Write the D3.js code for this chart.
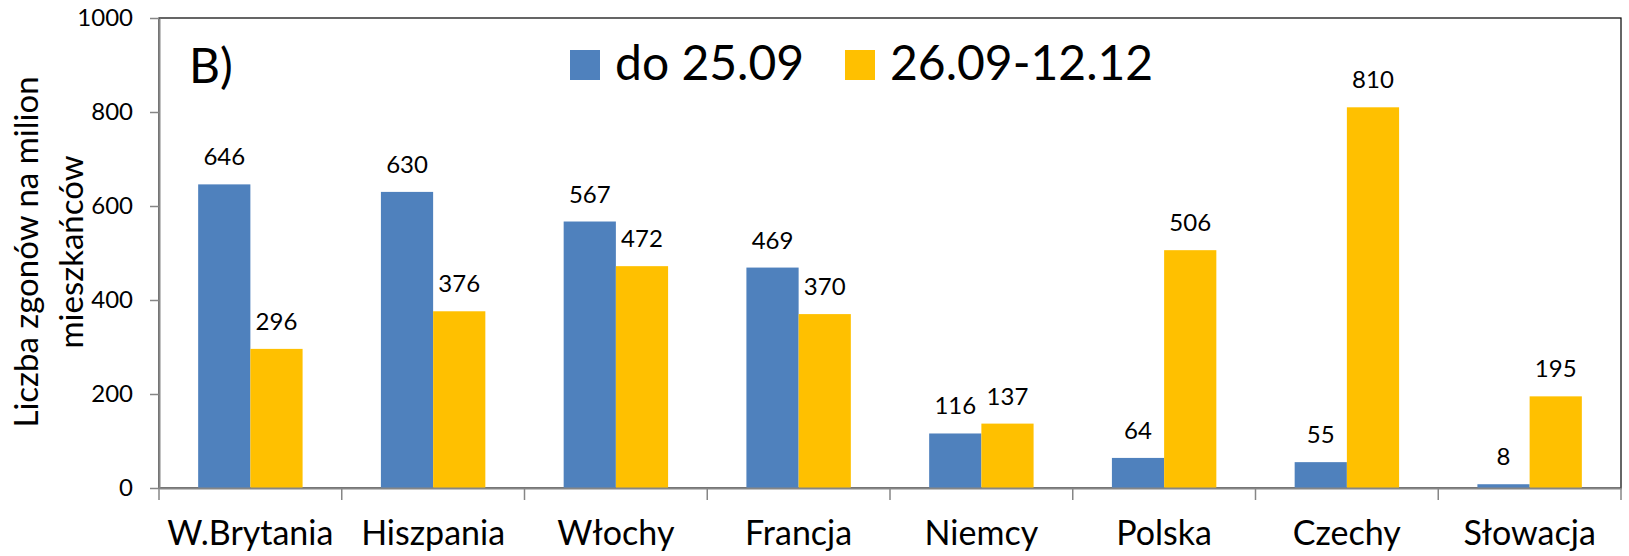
<!DOCTYPE html>
<html>
<head>
<meta charset="utf-8">
<script src="https://cdn.jsdelivr.net/npm/d3@7"></script>
<style>
  body { margin: 0; background: #fff; }
  text { font-family: Lato, "Open Sans", sans-serif; fill: #000; }
</style>
</head>
<body>
<svg id="chart" width="1629" height="556"></svg>
<script>
// data
let countries = ["W.Brytania", "Hiszpania", "Włochy", "Francja", "Niemcy", "Polska", "Czechy", "Słowacja"];
let before = [646, 630, 567, 469, 116, 64, 55, 8];
let after = [296, 376, 472, 370, 137, 506, 810, 195];
let seriesNames = ["do 25.09", "26.09-12.12"];
let colors = ["#4f81bd", "#ffc000"];
let yTicks = [0, 200, 400, 600, 800, 1000];

let svg = d3.select("#chart");
let m = { left: 159, right: 1621, top: 18, bottom: 488 };

let x = d3.scaleBand().domain(countries).range([m.left, m.right]).paddingInner(0).paddingOuter(0);
let xs = d3.scaleBand().domain([0, 1]).range([0, x.bandwidth()]).paddingOuter(0.75).paddingInner(0);
let y = d3.scaleLinear().domain([0, 1000]).range([m.bottom, m.top]);

// frame (top + right)
svg.append("rect")
  .attr("x", m.left).attr("y", m.top)
  .attr("width", m.right - m.left).attr("height", m.bottom - m.top)
  .attr("fill", "none").attr("stroke", "#000").attr("stroke-width", 1.2);

// bars + value labels
let series = [before, after];
series.forEach(function(vals, s) {
  svg.append("g").selectAll("rect")
    .data(vals)
    .join("rect")
    .attr("x", (d, i) => x(countries[i]) + xs(s))
    .attr("y", d => y(d))
    .attr("width", xs.bandwidth())
    .attr("height", d => y(0) - y(d))
    .attr("fill", colors[s]);

  svg.append("g").selectAll("text")
    .data(vals)
    .join("text")
    .attr("x", (d, i) => x(countries[i]) + xs(s) + xs.bandwidth() / 2)
    .attr("y", d => y(d) - 19)
    .attr("text-anchor", "middle")
    .style("font-size", "24px")
    .text(d => d);
});

// y axis
let yAxis = svg.append("g")
  .attr("transform", `translate(${m.left},0)`)
  .call(d3.axisLeft(y).tickValues(yTicks).tickFormat(d3.format("d")).tickSize(9).tickSizeOuter(0).tickPadding(17));
yAxis.select(".domain").attr("stroke", "#868686").attr("stroke-width", 2);
yAxis.selectAll(".tick line").attr("stroke", "#868686").attr("stroke-width", 1.5);
yAxis.selectAll(".tick text").style("font-size", "24px").style("font-family", "Lato, sans-serif").attr("fill", "#000");

// x axis
let xAxis = svg.append("g")
  .attr("transform", `translate(0,${m.bottom})`)
  .call(d3.axisBottom(x).tickSize(0).tickPadding(33));
xAxis.select(".domain").attr("stroke", "#868686").attr("stroke-width", 2);
xAxis.selectAll(".tick text").style("font-size", "34px").style("font-family", "Lato, sans-serif").attr("fill", "#000");

// category separators
let bounds = countries.map(c => x(c)).concat([m.right]);
svg.append("g").selectAll("line")
  .data(bounds)
  .join("line")
  .attr("x1", d => d).attr("x2", d => d)
  .attr("y1", m.bottom).attr("y2", m.bottom + 12)
  .attr("stroke", "#868686").attr("stroke-width", 1.5);

// y label
let yl = svg.append("text")
  .attr("transform", "translate(38,252) rotate(-90)")
  .attr("text-anchor", "middle")
  .style("font-size", "33px");
yl.append("tspan").attr("x", 0).attr("dy", 0).text("Liczba zgonów na milion");
yl.append("tspan").attr("x", 0).attr("dy", 45).text("mieszkańców");

// panel tag
svg.append("text")
  .attr("x", 189).attr("y", 83)
  .style("font-size", "48px")
  .text("B)");

// legend
let legendX = [570, 845];
seriesNames.forEach(function(name, i) {
  svg.append("rect")
    .attr("x", legendX[i]).attr("y", 50)
    .attr("width", 30).attr("height", 30)
    .attr("fill", colors[i]);
  svg.append("text")
    .attr("x", legendX[i] + 45).attr("y", 80)
    .style("font-size", "48px")
    .text(name);
});
</script>
</body>
</html>
